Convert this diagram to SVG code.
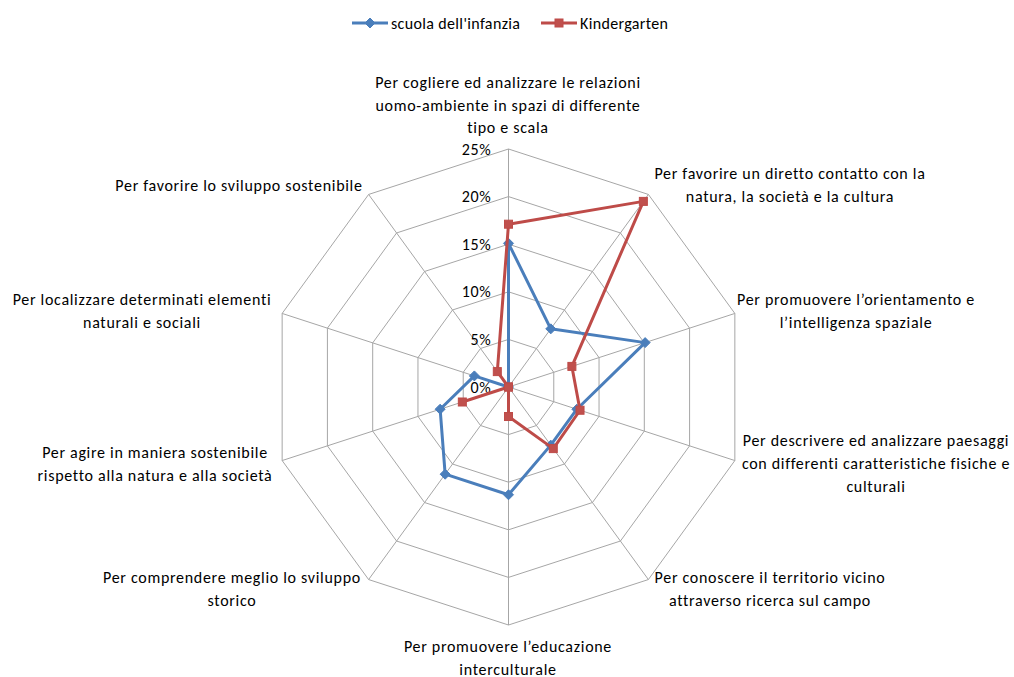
<svg xmlns="http://www.w3.org/2000/svg" width="1014" height="677" viewBox="0 0 1014 677">
  <style>
    text { font-family: Carlito, Lato, "Liberation Sans", sans-serif; font-size: 16px; letter-spacing: 0.7px; fill: #000; }
    .lbl { text-anchor: middle; }
    .tick { text-anchor: end; }
    .leg { letter-spacing: 0.35px; }
    .ring { fill: none; stroke: #a6a6a6; stroke-width: 1; }
    .spoke { stroke: #a6a6a6; stroke-width: 1; }
    .s1 { fill: none; stroke: #4a7ebb; stroke-width: 3; stroke-linejoin: round; }
    .s2 { fill: none; stroke: #be4b48; stroke-width: 3; stroke-linejoin: round; }
  </style>
  <defs>
    <polygon id="dia" points="0,-5 5,0 0,5 -5,0" fill="#4a7ebb" stroke="#4a7ebb" stroke-width="1"/>
    <rect id="sq" x="-4" y="-4" width="8" height="8" fill="#c0504d" stroke="#be4b48" stroke-width="1"/>
  </defs>
  <rect width="1014" height="677" fill="#fff"/>

  <!-- legend -->
  <g id="legend">
    <line x1="352" y1="23" x2="388" y2="23" class="s1"/>
    <use href="#dia" x="370" y="23"/>
    <text class="leg" x="391" y="28.5">scuola dell'infanzia</text>
    <line x1="541" y1="23" x2="577" y2="23" class="s2"/>
    <use href="#sq" x="559" y="23"/>
    <text class="leg" x="580" y="28.5">Kindergarten</text>
  </g>

  <g transform="translate(508.5,387)">
    <!-- grid: 5% rings and spokes -->
    <g id="grid">
      <polygon class="ring" points="0,-47.6 27.98,-38.51 45.27,-14.71 45.27,14.71 27.98,38.51 0,47.6 -27.98,38.51 -45.27,14.71 -45.27,-14.71 -27.98,-38.51"/>
      <polygon class="ring" points="0,-95.2 55.96,-77.02 90.54,-29.42 90.54,29.42 55.96,77.02 0,95.2 -55.96,77.02 -90.54,29.42 -90.54,-29.42 -55.96,-77.02"/>
      <polygon class="ring" points="0,-142.8 83.94,-115.53 135.81,-44.13 135.81,44.13 83.94,115.53 0,142.8 -83.94,115.53 -135.81,44.13 -135.81,-44.13 -83.94,-115.53"/>
      <polygon class="ring" points="0,-190.4 111.91,-154.04 181.08,-58.84 181.08,58.84 111.91,154.04 0,190.4 -111.91,154.04 -181.08,58.84 -181.08,-58.84 -111.91,-154.04"/>
      <polygon class="ring" points="0,-238 139.89,-192.55 226.35,-73.55 226.35,73.55 139.89,192.55 0,238 -139.89,192.55 -226.35,73.55 -226.35,-73.55 -139.89,-192.55"/>
      <line class="spoke" x1="0" y1="0" x2="0" y2="-238"/>
      <line class="spoke" x1="0" y1="0" x2="139.89" y2="-192.55"/>
      <line class="spoke" x1="0" y1="0" x2="226.35" y2="-73.55"/>
      <line class="spoke" x1="0" y1="0" x2="226.35" y2="73.55"/>
      <line class="spoke" x1="0" y1="0" x2="139.89" y2="192.55"/>
      <line class="spoke" x1="0" y1="0" x2="0" y2="238"/>
      <line class="spoke" x1="0" y1="0" x2="-139.89" y2="192.55"/>
      <line class="spoke" x1="0" y1="0" x2="-226.35" y2="73.55"/>
      <line class="spoke" x1="0" y1="0" x2="-226.35" y2="-73.55"/>
      <line class="spoke" x1="0" y1="0" x2="-139.89" y2="-192.55"/>
    </g>

    <!-- axis scale -->
    <g id="scale">
      <text class="tick" x="-17" y="-232.5">25%</text>
      <text class="tick" x="-17" y="-184.9">20%</text>
      <text class="tick" x="-17" y="-137.3">15%</text>
      <text class="tick" x="-17" y="-89.7">10%</text>
      <text class="tick" x="-17" y="-42.1">5%</text>
      <text class="tick" x="-17" y="5.5">0%</text>
    </g>

    <!-- series: scuola dell'infanzia -->
    <g id="series-infanzia">
      <polygon class="s1" points="0,-143.66 42.25,-58.15 136.63,-44.39 68.36,22.21 42.25,58.15 0,107.77 -63.35,87.19 -68.36,22.21 -34.13,-11.09 0,0"/>
      <use href="#dia" x="0" y="-143.66"/>
      <use href="#dia" x="42.25" y="-58.15"/>
      <use href="#dia" x="136.63" y="-44.39"/>
      <use href="#dia" x="68.36" y="22.21"/>
      <use href="#dia" x="42.25" y="58.15"/>
      <use href="#dia" x="0" y="107.77"/>
      <use href="#dia" x="-63.35" y="87.19"/>
      <use href="#dia" x="-68.36" y="22.21"/>
      <use href="#dia" x="-34.13" y="-11.09"/>
      <use href="#dia" x="0" y="0"/>
    </g>

    <!-- series: Kindergarten -->
    <g id="series-kindergarten">
      <polygon class="s2" points="0,-162.8 134.86,-185.61 63.38,-20.59 71.53,23.24 44.77,61.61 0,29.51 0,0 -46.17,15 0,0 -11.19,-15.4"/>
      <use href="#sq" x="0" y="-162.8"/>
      <use href="#sq" x="134.86" y="-185.61"/>
      <use href="#sq" x="63.38" y="-20.59"/>
      <use href="#sq" x="71.53" y="23.24"/>
      <use href="#sq" x="44.77" y="61.61"/>
      <use href="#sq" x="0" y="29.51"/>
      <use href="#sq" x="0" y="0"/>
      <use href="#sq" x="-46.17" y="15"/>
      <use href="#sq" x="0" y="0"/>
      <use href="#sq" x="-11.19" y="-15.4"/>
    </g>
  </g>

  <!-- category labels -->
  <g id="cat-0">
    <text class="lbl" x="508" y="88">Per cogliere ed analizzare le relazioni</text>
    <text class="lbl" x="508" y="110.5">uomo-ambiente in spazi di differente</text>
    <text class="lbl" x="508" y="133">tipo e scala</text>
  </g>
  <g id="cat-1">
    <text class="lbl" x="790" y="179">Per favorire un diretto contatto con la</text>
    <text class="lbl" x="790" y="202">natura, la società e la cultura</text>
  </g>
  <g id="cat-2">
    <text class="lbl" x="856" y="305">Per promuovere l’orientamento e</text>
    <text class="lbl" x="856" y="328">l’intelligenza spaziale</text>
  </g>
  <g id="cat-3">
    <text class="lbl" x="876" y="446">Per descrivere ed analizzare paesaggi</text>
    <text class="lbl" x="876" y="469">con differenti caratteristiche fisiche e</text>
    <text class="lbl" x="876" y="492">culturali</text>
  </g>
  <g id="cat-4">
    <text class="lbl" x="770" y="583">Per conoscere il territorio vicino</text>
    <text class="lbl" x="770" y="605.5">attraverso ricerca sul campo</text>
  </g>
  <g id="cat-5">
    <text class="lbl" x="508" y="652">Per promuovere l’educazione</text>
    <text class="lbl" x="508" y="675">interculturale</text>
  </g>
  <g id="cat-6">
    <text class="lbl" x="232" y="583">Per comprendere meglio lo sviluppo</text>
    <text class="lbl" x="232" y="605.5">storico</text>
  </g>
  <g id="cat-7">
    <text class="lbl" x="155" y="458">Per agire in maniera sostenibile</text>
    <text class="lbl" x="155" y="480.5">rispetto alla natura e alla società</text>
  </g>
  <g id="cat-8">
    <text class="lbl" x="142" y="305">Per localizzare determinati elementi</text>
    <text class="lbl" x="142" y="328">naturali e sociali</text>
  </g>
  <g id="cat-9">
    <text class="lbl" x="239" y="191">Per favorire lo sviluppo sostenibile</text>
  </g>
</svg>
